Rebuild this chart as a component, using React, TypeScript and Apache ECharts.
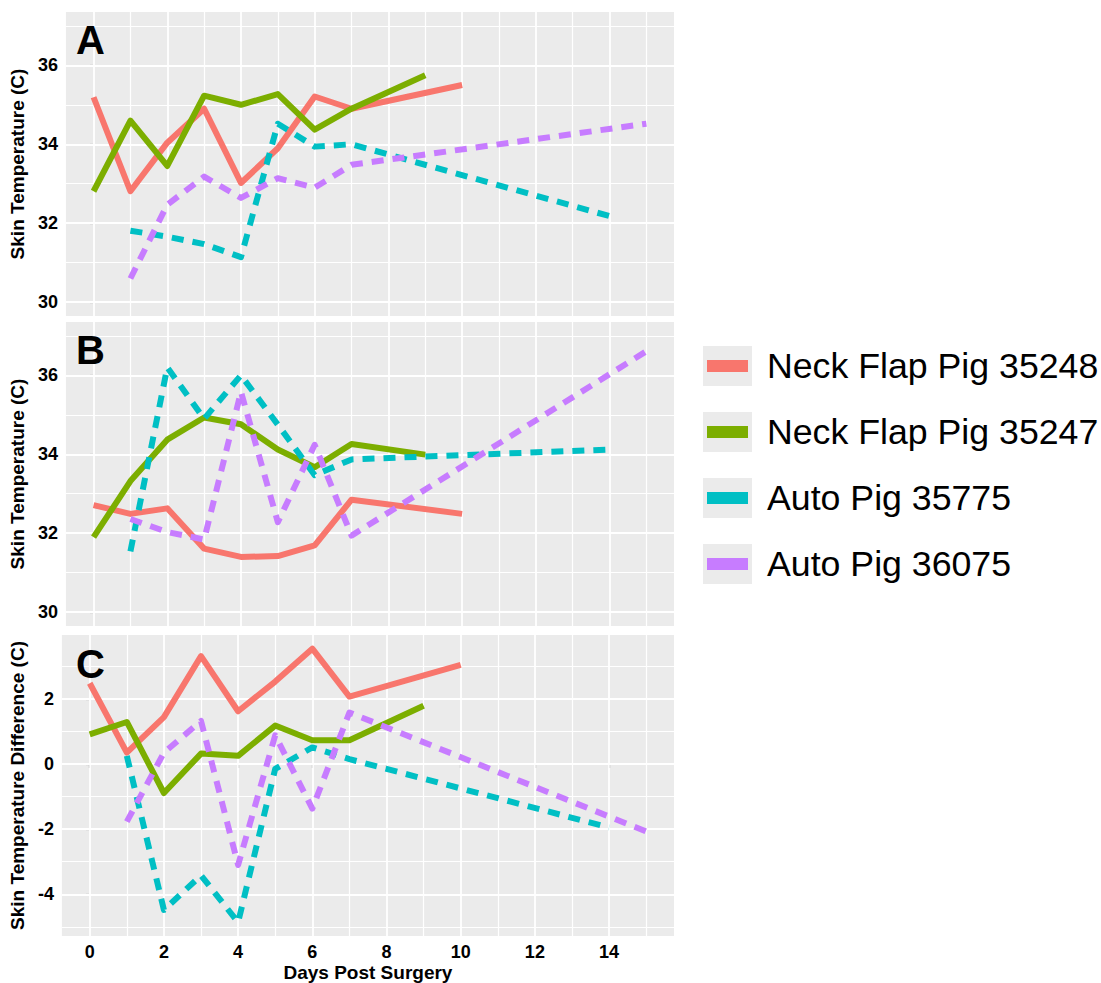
import React, { useEffect, useRef } from "react";
import * as echarts from "echarts";

const FONT = '"Liberation Sans", Arial, Helvetica, sans-serif';

const SERIES_NAMES = ["Neck Flap Pig 35248", "Neck Flap Pig 35247", "Auto Pig 35775", "Auto Pig 36075"];
const SERIES_COLORS = ["#F8766D", "#7CAE00", "#00BFC4", "#C77CFF"];
const SERIES_DASHED = [false, false, true, true];

const DAYS_35248 = [0, 1, 2, 3, 4, 5, 6, 7, 10];
const DAYS_35247 = [0, 1, 2, 3, 4, 5, 6, 7, 9];
const DAYS_35775 = [1, 2, 3, 4, 5, 6, 7, 14];
const DAYS_36075 = [1, 2, 3, 4, 5, 6, 7, 15];

// Panel A: skin temperature
const A_35248 = [35.19, 32.81, 34.04, 34.9, 33.02, 33.9, 35.21, 34.9, 35.5];
const A_35247 = [32.81, 34.6, 33.45, 35.23, 35.0, 35.27, 34.37, 34.9, 35.75];
const A_35775 = [31.81, 31.66, 31.47, 31.14, 34.52, 33.94, 34.0, 32.18];
const A_36075 = [30.6, 32.47, 33.18, 32.64, 33.14, 32.9, 33.48, 34.52];

// Panel B: skin temperature
const B_35248 = [32.71, 32.49, 32.63, 31.61, 31.4, 31.42, 31.69, 32.85, 32.49];
const B_35247 = [31.9, 33.32, 34.37, 34.93, 34.76, 34.12, 33.67, 34.26, 33.99];
const B_35775 = [31.54, 36.2, 34.9, 36.0, 34.75, 33.47, 33.87, 34.12];
const B_36075 = [32.36, 32.03, 31.84, 35.58, 32.28, 34.24, 31.94, 36.61];

// Panel C: skin temperature difference
const C_35248 = [2.48, 0.35, 1.44, 3.31, 1.62, 2.53, 3.54, 2.07, 3.04];
const C_35247 = [0.91, 1.29, -0.89, 0.32, 0.25, 1.18, 0.73, 0.73, 1.79];
const C_35775 = [0.25, -4.48, -3.42, -4.86, -0.15, 0.51, 0.15, -1.95];
const C_36075 = [-1.77, 0.35, 1.32, -3.1, 0.88, -1.37, 1.58, -2.07];

const X_TICKS = [0, 2, 4, 6, 8, 10, 12, 14];
const X_MINOR = [1, 3, 5, 7, 9, 11, 13, 15];
const Y_TICKS_AB = [30, 32, 34, 36];
const Y_MINOR_AB = [31, 33, 35, 37];
const Y_TICKS_C = [-4, -2, 0, 2];
const Y_MINOR_C = [-5, -3, -1, 1, 3];

const PANEL_LETTERS = ["A", "B", "C"];
const Y_TITLES = ["Skin Temperature (C)", "Skin Temperature (C)", "Skin Temperature Difference (C)"];
const X_TITLE = "Days Post Surgery";

const DAYS = [DAYS_35248, DAYS_35247, DAYS_35775, DAYS_36075];
const PANELS = [
  [A_35248, A_35247, A_35775, A_36075],
  [B_35248, B_35247, B_35775, B_36075],
  [C_35248, C_35247, C_35775, C_36075],
];

function pairs(xs: number[], ys: number[]) {
  return xs.map((x, i) => [x, ys[i]]);
}

export default function App() {
  const ref = useRef<HTMLDivElement>(null);

  useEffect(() => {
    document.body.style.margin = "0";
    if (!ref.current) return;
    const chart = echarts.init(ref.current, undefined, { renderer: "svg" });

    const grids = [
      { left: 61, top: 12, width: 613, height: 304 },
      { left: 61, top: 322, width: 613, height: 304 },
      { left: 61, top: 635, width: 613, height: 302 },
    ].map((g) => ({ ...g, show: true, backgroundColor: "#EBEBEB", borderWidth: 0, containLabel: false }));

    // C range with ggplot-like 5% expansion
    const cVals = PANELS[2].flat();
    const cMin = Math.min(...cVals);
    const cMax = Math.max(...cVals);
    const cPad = (cMax - cMin) * 0.05;
    const yRanges = [
      [29.65, 37.35],
      [29.65, 37.35],
      [cMin - cPad, cMax + cPad],
    ];

    const labelStyle = { color: "#000", fontWeight: "bold" as const, fontSize: 18, fontFamily: FONT };

    const xAxis = [0, 1, 2].map((i) => ({
      type: "value",
      gridIndex: i,
      min: -0.75,
      max: 15.75,
      axisLine: { show: false },
      splitLine: { show: false },
      axisTick: { show: i === 2, customValues: X_TICKS, length: 4, lineStyle: { color: "#333", width: 1.1 } },
      axisLabel: { show: i === 2, customValues: X_TICKS, margin: 7, ...labelStyle },
      name: i === 2 ? X_TITLE : "",
      nameLocation: "middle",
      nameGap: 27,
      nameTextStyle: { color: "#000", fontWeight: "bold", fontSize: 19, fontFamily: FONT },
    }));

    const yAxis = [0, 1, 2].map((i) => ({
      type: "value",
      gridIndex: i,
      min: yRanges[i][0],
      max: yRanges[i][1],
      axisLine: { show: false },
      splitLine: { show: false },
      axisTick: {
        show: true,
        customValues: i === 2 ? Y_TICKS_C : Y_TICKS_AB,
        length: 4,
        lineStyle: { color: "#333", width: 1.1 },
      },
      axisLabel: { customValues: i === 2 ? Y_TICKS_C : Y_TICKS_AB, margin: 8, ...labelStyle },
      name: Y_TITLES[i],
      nameLocation: "middle",
      nameRotate: 90,
      nameGap: 29,
      nameTextStyle: { color: "#000", fontWeight: "bold", fontSize: 19, fontFamily: FONT },
    }));

    const gridLineSeries = [0, 1, 2].map((i) => {
      const yMaj = i === 2 ? Y_TICKS_C : Y_TICKS_AB;
      const yMin = i === 2 ? Y_MINOR_C : Y_MINOR_AB;
      const maj = { color: "#FFFFFF", width: 1.8, type: "solid" };
      const min = { color: "#FFFFFF", width: 1.2, type: "solid" };
      return {
        type: "line",
        name: "__grid" + i,
        xAxisIndex: i,
        yAxisIndex: i,
        data: [],
        silent: true,
        z: 1,
        markLine: {
          silent: true,
          z: 1,
          symbol: ["none", "none"],
          label: { show: false },
          emphasis: { disabled: true },
          animation: false,
          data: [
            ...X_MINOR.map((v) => ({ xAxis: v, lineStyle: min })),
            ...yMin.map((v) => ({ yAxis: v, lineStyle: min })),
            ...X_TICKS.map((v) => ({ xAxis: v, lineStyle: maj })),
            ...yMaj.map((v) => ({ yAxis: v, lineStyle: maj })),
          ],
        },
      };
    });

    const dataSeries: any[] = [];
    PANELS.forEach((panel, p) => {
      panel.forEach((vals, s) => {
        dataSeries.push({
          type: "line",
          name: SERIES_NAMES[s],
          xAxisIndex: p,
          yAxisIndex: p,
          data: pairs(DAYS[s], vals),
          showSymbol: false,
          symbol: "none",
          z: 3,
          color: SERIES_COLORS[s],
          itemStyle: { color: SERIES_COLORS[s] },
          lineStyle: {
            color: SERIES_COLORS[s],
            width: 6,
            type: SERIES_DASHED[s] ? [12, 9] : "solid",
            cap: "butt",
            join: "round",
          },
        });
      });
    });

    const LEG_TOP = 346;
    const LEG_STEP = 66;

    const graphic: any[] = [
      ...SERIES_NAMES.map((_, k) => ({
        type: "rect",
        z: 0,
        shape: { x: 703, y: LEG_TOP + k * LEG_STEP, width: 49, height: 40 },
        style: { fill: "#EBEBEB" },
      })),
      ...PANEL_LETTERS.map((t, i) => ({
        type: "text",
        z: 10,
        x: 76,
        y: [40, 350, 664][i],
        style: {
          text: t,
          fontSize: 40,
          fontWeight: "bold",
          fontFamily: FONT,
          fill: "#000",
          verticalAlign: "middle",
          textVerticalAlign: "middle",
        },
      })),
    ];

    chart.setOption({
      animation: false,
      grid: grids,
      xAxis,
      yAxis,
      legend: {
        orient: "vertical",
        left: 707,
        top: LEG_TOP,
        padding: 0,
        itemWidth: 41,
        itemHeight: 12,
        itemGap: LEG_STEP - 40,
        icon: "rect",
        selectedMode: false,
        z: 10,
        data: SERIES_NAMES,
        itemStyle: { borderWidth: 0 },
        textStyle: { fontSize: 35.7, fontFamily: FONT, color: "#000", lineHeight: 40, padding: [0, 0, 0, 14] },
      },
      graphic,
      series: [...gridLineSeries, ...dataSeries],
    });

    return () => chart.dispose();
  }, []);

  return <div ref={ref} style={{ width: 1101, height: 983 }} />;
}
